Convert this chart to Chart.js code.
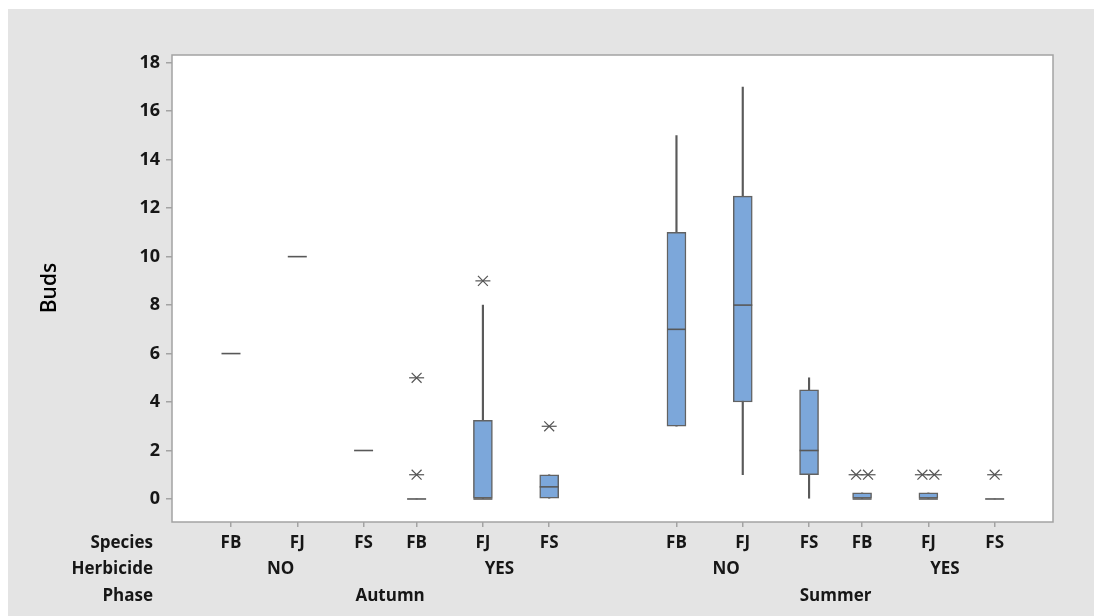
<!DOCTYPE html>
<html>
<head>
<meta charset="utf-8">
<script src="https://cdn.jsdelivr.net/npm/chart.js@4.4.1/dist/chart.umd.min.js"></script>
<style>
  html, body { margin: 0; padding: 0; background: #ffffff; }
  #wrap { width: 1094px; height: 616px; position: relative; }
</style>
</head>
<body>
<div id="wrap"><canvas id="c"></canvas></div>
<script>
// ---- grouping levels (outer to inner) ----
const phases = ['Autumn', 'Summer'];
const herbicides = ['NO', 'YES'];
const species = ['FB', 'FJ', 'FS'];

// ---- box statistics, one entry per Phase / Herbicide / Species cell ----
const whiskerLow  = [6, 10, 2, 0, 0,    0,   3,  1,    0,   0,    0,    0];
const quartile1   = [6, 10, 2, 0, 0,    0,   3,  4,    1,   0,    0,    0];
const medians     = [6, 10, 2, 0, 0,    0.5, 7,  8,    2,   0,    0,    0];
const quartile3   = [6, 10, 2, 0, 3.25, 1,   11, 12.5, 4.5, 0.25, 0.25, 0];
const whiskerHigh = [6, 10, 2, 0, 8,    1,   15, 17,   5,   0.25, 0.25, 0];
const outliers    = [[], [], [], [5, 1], [9], [3], [], [], [], [1, 1], [1, 1], [1]];

const yTickValues = [0, 2, 4, 6, 8, 10, 12, 14, 16, 18];

// ---- layout of the nested category axis (axis units) ----
const SPECIES_STEP = 1;
const HERB_STEP = 2.8;
const PHASE_STEP = 6.72;
const HERB_LABEL_SHIFT = [0.75, 1.25];
const TIE_SPREAD = 0.18;

const cells = [];
phases.forEach((p, pi) => {
  herbicides.forEach((h, hi) => {
    species.forEach((s, si) => {
      cells.push({ phase: p, herb: h, sp: s,
        x: pi * PHASE_STEP + hi * HERB_STEP + si * SPECIES_STEP });
    });
  });
});

const whiskerData = cells.map((c, i) => ({ x: c.x, y: [whiskerLow[i], whiskerHigh[i]] }));
const boxData = cells
  .map((c, i) => ({ x: c.x, y: [quartile1[i], quartile3[i]] }))
  .filter(d => d.y[1] > d.y[0]);
const medianData = cells.map((c, i) => ({ x: c.x, y: medians[i] }));

// outliers with tied values are spread sideways
const outlierData = [];
cells.forEach((c, i) => {
  const counts = {};
  outliers[i].forEach(v => { counts[v] = (counts[v] || 0) + 1; });
  Object.keys(counts).forEach(k => {
    const n = counts[k];
    for (let j = 0; j < n; j++) {
      outlierData.push({ x: c.x + (j - (n - 1) / 2) * TIE_SPREAD, y: Number(k) });
    }
  });
});

const TEXT = '#161616';
const AXIS_GREY = '#a3a3a3';
const FONT = "'Open Sans', 'DejaVu Sans', sans-serif";

const decor = {
  id: 'decor',
  beforeDraw(chart) {
    const { ctx, chartArea: a } = chart;
    ctx.save();
    ctx.fillStyle = '#ffffff';
    ctx.fillRect(0, 0, chart.width, chart.height);
    ctx.fillStyle = '#e4e4e4';
    ctx.fillRect(8, 9, chart.width - 8, chart.height - 9);
    ctx.fillStyle = '#ffffff';
    ctx.fillRect(a.left, a.top, a.right - a.left, a.bottom - a.top);
    ctx.restore();
  },
  afterDraw(chart) {
    const { ctx, chartArea: a } = chart;
    const xs = chart.scales.x;
    ctx.save();
    ctx.strokeStyle = AXIS_GREY;
    ctx.lineWidth = 1.5;
    ctx.strokeRect(a.left, a.top, a.right - a.left, a.bottom - a.top);

    ctx.fillStyle = TEXT;
    ctx.font = 'bold 17px ' + FONT;
    ctx.textBaseline = 'alphabetic';

    // row titles
    ctx.textAlign = 'right';
    ctx.fillText('Species', 153, 548);
    ctx.fillText('Herbicide', 153, 574);
    ctx.fillText('Phase', 153, 601);

    ctx.textAlign = 'center';
    // species row
    cells.forEach(c => ctx.fillText(c.sp, xs.getPixelForValue(c.x), 548));
    // herbicide row
    phases.forEach((p, pi) => {
      herbicides.forEach((h, hi) => {
        const v = pi * PHASE_STEP + hi * HERB_STEP + HERB_LABEL_SHIFT[hi];
        ctx.fillText(h, xs.getPixelForValue(v), 574);
      });
    });
    // phase row
    phases.forEach((p, pi) => {
      const first = pi * PHASE_STEP;
      const last = first + (herbicides.length - 1) * HERB_STEP + (species.length - 1) * SPECIES_STEP;
      ctx.fillText(p, xs.getPixelForValue((first + last) / 2), 601);
    });

    // y axis title
    ctx.translate(50, 288);
    ctx.rotate(-Math.PI / 2);
    ctx.font = '600 21px ' + FONT;
    ctx.textBaseline = 'middle';
    ctx.fillStyle = '#000';
    ctx.fillText('Buds', 0, 0);
    ctx.restore();
  }
};

new Chart(document.getElementById('c'), {
  type: 'scatter',
  data: {
    datasets: [
      { type: 'bar', label: 'whisker', data: whiskerData, backgroundColor: '#5a5a5a',
        barThickness: 1.5, grouped: false, order: 6 },
      { type: 'bar', label: 'box', data: boxData, backgroundColor: '#7ca7da',
        borderColor: '#626262', borderWidth: 1.5, borderSkipped: false,
        barThickness: 19, grouped: false, order: 5 },
      { type: 'scatter', label: 'median', data: medianData, pointStyle: 'line',
        pointRadius: 9.5, borderColor: '#585858', pointBorderWidth: 1.6, order: 4 },
      { type: 'scatter', label: 'outlier', data: outlierData, pointStyle: 'crossRot',
        pointRadius: 7, borderColor: '#555555', pointBorderWidth: 1.2, order: 3 },
      { type: 'scatter', label: 'outlier bar', data: outlierData, pointStyle: 'line',
        pointRadius: 7.5, borderColor: '#555555', pointBorderWidth: 1.2, order: 2 }
    ]
  },
  options: {
    responsive: true,
    maintainAspectRatio: false,
    animation: false,
    events: [],
    layout: { padding: { top: 55, right: 41, left: 0, bottom: 0 } },
    plugins: { legend: { display: false }, tooltip: { enabled: false } },
    scales: {
      x: {
        type: 'linear',
        min: -0.89,
        max: 12.4,
        offset: false,
        afterBuildTicks: s => { s.ticks = cells.map(c => ({ value: c.x })); },
        afterFit: s => { s.height = 94; },
        ticks: { display: false },
        grid: { display: true, drawOnChartArea: false, drawTicks: true, tickLength: 5,
                color: AXIS_GREY, lineWidth: 1.5, offset: false },
        border: { display: false }
      },
      y: {
        min: -0.95,
        max: 18.32,
        afterBuildTicks: s => { s.ticks = yTickValues.map(v => ({ value: v })); },
        afterFit: s => { s.width = 172; },
        ticks: { color: TEXT, font: { family: FONT, size: 18, weight: 'bold' }, padding: 6 },
        grid: { display: true, drawOnChartArea: false, drawTicks: true, tickLength: 6,
                color: AXIS_GREY, lineWidth: 1.5 },
        border: { display: false }
      }
    }
  },
  plugins: [decor]
});
</script>
</body>
</html>
